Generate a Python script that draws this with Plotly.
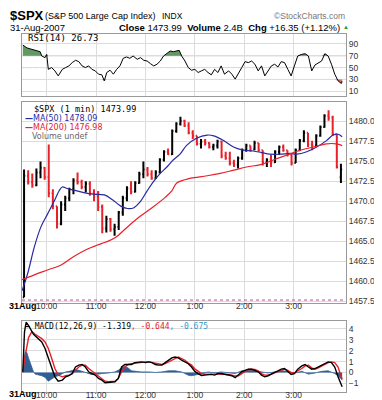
import plotly.graph_objects as go
import pandas as pd

DAY = "2007-08-31"
W, H = 382, 400

# ---------------- price bars (5-minute buckets) ----------------
bar_time = ["09:30", "09:35", "09:40", "09:45", "09:50", "09:55", "10:00", "10:05", "10:10", "10:15",
            "10:20", "10:25", "10:30", "10:35", "10:40", "10:45", "10:50", "10:55", "11:00", "11:05",
            "11:10", "11:15", "11:20", "11:25", "11:30", "11:35", "11:40", "11:45", "11:50", "11:55",
            "12:00", "12:05", "12:10", "12:15", "12:20", "12:25", "12:30", "12:35", "12:40", "12:45",
            "12:50", "12:55", "13:00", "13:05", "13:10", "13:15", "13:20", "13:25", "13:30", "13:35",
            "13:40", "13:45", "13:50", "13:55", "14:00", "14:05", "14:10", "14:15", "14:20", "14:25",
            "14:30", "14:35", "14:40", "14:45", "14:50", "14:55", "15:00", "15:05", "15:10", "15:15",
            "15:20", "15:25", "15:30", "15:35", "15:40", "15:45", "15:50", "15:55"]
bar_open = [1458.0, 1473.2, 1472.4, 1472.0, 1473.6, 1474.2, 1473.0, 1471.0, 1469.4, 1467.2,
            1469.6, 1470.4, 1471.5, 1472.6, 1472.4, 1471.8, 1472.2, 1471.0, 1470.6, 1469.3,
            1466.6, 1467.8, 1466.5, 1466.8, 1468.6, 1470.4, 1471.6, 1471.2, 1472.3, 1473.4,
            1474.0, 1473.4, 1472.9, 1473.6, 1475.2, 1476.2, 1475.9, 1478.8, 1479.7, 1480.1,
            1479.5, 1478.6, 1478.2, 1477.2, 1477.5, 1477.3, 1476.8, 1477.0, 1477.5, 1475.7,
            1475.4, 1474.8, 1474.6, 1475.4, 1476.4, 1477.0, 1476.5, 1477.3, 1476.4, 1474.9,
            1475.2, 1474.9, 1476.2, 1476.8, 1476.4, 1475.8, 1474.8, 1476.4, 1477.6, 1478.6,
            1477.1, 1477.0, 1478.2, 1479.3, 1480.7, 1480.5, 1478.4, 1473.0]
bar_high = [1474.0, 1473.9, 1473.5, 1474.1, 1475.0, 1474.3, 1477.1, 1471.5, 1469.4, 1470.0,
            1470.7, 1471.7, 1472.9, 1473.6, 1472.7, 1472.5, 1472.5, 1471.5, 1471.3, 1469.6,
            1468.2, 1467.9, 1467.2, 1468.8, 1470.7, 1471.9, 1472.5, 1472.5, 1473.7, 1475.0,
            1474.3, 1473.9, 1473.9, 1475.4, 1476.4, 1476.6, 1479.0, 1479.9, 1480.6, 1480.2,
            1479.9, 1478.9, 1478.2, 1477.8, 1477.8, 1477.4, 1477.2, 1477.7, 1477.6, 1476.2,
            1476.2, 1475.2, 1475.6, 1476.6, 1477.2, 1477.0, 1477.6, 1477.3, 1476.4, 1475.4,
            1475.8, 1476.4, 1477.0, 1477.1, 1476.4, 1475.9, 1476.6, 1477.8, 1478.9, 1478.6,
            1477.6, 1478.4, 1479.5, 1480.9, 1481.4, 1480.7, 1478.4, 1474.7]
bar_low = [1458.0, 1472.1, 1471.7, 1471.9, 1472.9, 1472.7, 1470.5, 1469.0, 1466.6, 1467.0,
           1468.8, 1470.0, 1470.9, 1472.1, 1471.5, 1471.1, 1470.7, 1470.0, 1468.8, 1466.0,
           1466.1, 1466.2, 1465.7, 1466.4, 1468.2, 1470.0, 1470.9, 1471.1, 1472.2, 1472.9,
           1473.1, 1472.7, 1472.8, 1473.5, 1475.0, 1475.8, 1475.8, 1478.6, 1479.5, 1479.3,
           1478.4, 1477.8, 1477.0, 1476.6, 1477.0, 1476.6, 1476.4, 1476.6, 1475.4, 1475.2,
           1474.5, 1474.3, 1474.1, 1475.2, 1476.2, 1476.2, 1476.4, 1476.2, 1474.5, 1474.3,
           1474.3, 1474.8, 1475.8, 1476.2, 1475.6, 1474.5, 1474.8, 1476.3, 1477.4, 1476.8,
           1476.4, 1476.9, 1478.1, 1479.2, 1480.1, 1478.2, 1474.1, 1472.3]
bar_close = [1473.2, 1472.4, 1472.0, 1473.6, 1474.2, 1473.0, 1471.0, 1469.4, 1467.2, 1469.6,
             1470.4, 1471.5, 1472.6, 1472.4, 1471.8, 1472.2, 1471.0, 1470.6, 1469.3, 1466.6,
             1467.8, 1466.5, 1466.8, 1468.6, 1470.4, 1471.6, 1471.2, 1472.3, 1473.4, 1474.0,
             1473.4, 1472.9, 1473.6, 1475.2, 1476.2, 1475.9, 1478.8, 1479.7, 1480.1, 1479.5,
             1478.6, 1478.2, 1477.2, 1477.5, 1477.3, 1476.8, 1477.0, 1477.5, 1475.7, 1475.4,
             1474.8, 1474.6, 1475.4, 1476.4, 1477.0, 1476.5, 1477.3, 1476.4, 1474.9, 1475.2,
             1474.9, 1476.2, 1476.8, 1476.4, 1475.8, 1474.8, 1476.4, 1477.6, 1478.6, 1477.1,
             1477.0, 1478.2, 1479.3, 1480.7, 1480.5, 1478.4, 1474.3, 1473.99]
prev_close = 1457.64

# ---------------- moving averages ----------------
ma50_time = ["09:30", "09:37", "09:45", "09:53", "10:01", "10:09", "10:15", "10:19", "10:25", "10:33",
             "10:45", "10:57", "11:10", "11:20", "11:30", "11:38", "11:46", "11:54", "12:02", "12:10",
             "12:18", "12:26", "12:34", "12:42", "12:50", "13:02", "13:15", "13:23", "13:35", "13:47",
             "13:59", "14:11", "14:21", "14:31", "14:44", "14:56", "15:04", "15:16", "15:28", "15:40",
             "15:48", "15:54", "15:59"]
ma50_val = [1458.8, 1461.0, 1464.3, 1466.8, 1468.4, 1470.0, 1471.3, 1471.8, 1471.6, 1471.4,
            1471.1, 1470.9, 1470.8, 1470.2, 1469.4, 1469.1, 1469.2, 1470.0, 1471.3, 1472.5,
            1473.5, 1474.3, 1475.2, 1475.9, 1477.0, 1477.9, 1478.3, 1478.2, 1477.6, 1476.8,
            1476.4, 1476.3, 1476.1, 1475.9, 1475.9, 1476.0, 1475.9, 1476.2, 1476.8, 1477.6,
            1478.3, 1478.4, 1478.09]
ma200_time = ["09:30", "09:45", "10:01", "10:17", "10:33", "10:49", "11:01", "11:12", "11:24", "11:36",
              "11:52", "12:08", "12:24", "12:32", "12:38", "12:48", "12:55", "13:15", "13:31", "13:47",
              "14:03", "14:20", "14:36", "14:52", "15:08", "15:24", "15:40", "15:52", "15:59"]
ma200_val = [1460.2, 1460.8, 1461.4, 1462.0, 1463.1, 1464.0, 1464.5, 1464.9, 1465.5, 1466.6,
             1468.0, 1469.2, 1470.5, 1471.3, 1472.3, 1472.7, 1472.9, 1473.2, 1473.5, 1473.9,
             1474.3, 1474.6, 1475.2, 1475.8, 1476.4, 1476.8, 1477.2, 1477.2, 1476.98]

# ---------------- RSI(14) ----------------
rsi_time = ["09:31", "09:36", "09:42", "09:48", "09:52", "09:54", "09:58", "10:00", "10:02", "10:06",
            "10:10", "10:14", "10:19", "10:23", "10:27", "10:31", "10:35", "10:39", "10:43", "10:47",
            "10:51", "10:55", "10:59", "11:03", "11:07", "11:10", "11:13", "11:17", "11:21", "11:25",
            "11:29", "11:33", "11:37", "11:41", "11:45", "11:50", "11:54", "11:58", "12:02", "12:06",
            "12:10", "12:14", "12:18", "12:22", "12:26", "12:30", "12:34", "12:38", "12:41", "12:44",
            "12:48", "12:52", "12:56", "13:00", "13:04", "13:08", "13:12", "13:16", "13:20", "13:24",
            "13:28", "13:32", "13:36", "13:41", "13:45", "13:49", "13:53", "13:57", "14:01", "14:05",
            "14:09", "14:13", "14:17", "14:21", "14:25", "14:29", "14:33", "14:37", "14:41", "14:45",
            "14:49", "14:53", "14:57", "15:01", "15:05", "15:10", "15:14", "15:18", "15:22", "15:26",
            "15:30", "15:34", "15:38", "15:42", "15:46", "15:50", "15:54", "15:58", "15:59"]
rsi_val = [87.8, 83.0, 80.6, 77.8, 76.7, 69.4, 66.7, 72.0, 47.0, 50.0,
           44.4, 36.0, 47.0, 50.0, 52.8, 58.3, 62.2, 60.0, 52.8, 50.0,
           52.8, 47.0, 44.4, 38.9, 37.8, 27.8, 41.7, 45.6, 38.9, 47.0,
           52.8, 65.6, 67.8, 65.6, 69.4, 63.9, 66.7, 62.2, 61.0, 56.7,
           52.8, 55.6, 61.0, 69.4, 73.3, 77.8, 76.7, 77.8, 78.9, 69.4,
           61.0, 50.0, 45.6, 47.0, 41.7, 44.4, 47.0, 41.7, 37.8, 47.0,
           41.7, 52.8, 38.9, 44.4, 38.9, 30.6, 41.7, 50.0, 60.0, 58.3,
           61.0, 55.6, 44.4, 52.8, 36.0, 44.4, 52.8, 55.6, 51.0, 60.0,
           58.3, 47.0, 36.0, 52.8, 69.4, 72.2, 73.3, 69.4, 44.4, 54.4,
           58.3, 61.0, 73.3, 69.4, 55.6, 38.9, 27.8, 23.3, 26.73]

# ---------------- MACD(12,26,9) ----------------
macd_time = ["09:31", "09:33", "09:35", "09:38", "09:44", "09:50", "09:54", "09:58", "10:02", "10:06",
             "10:10", "10:14", "10:19", "10:23", "10:27", "10:31", "10:35", "10:39", "10:43", "10:47",
             "10:51", "10:55", "10:59", "11:03", "11:07", "11:11", "11:15", "11:19", "11:23", "11:27",
             "11:31", "11:35", "11:39", "11:43", "11:47", "11:51", "11:55", "12:00", "12:04", "12:08",
             "12:12", "12:16", "12:20", "12:24", "12:28", "12:32", "12:36", "12:40", "12:44", "12:48",
             "12:52", "12:56", "13:00", "13:04", "13:08", "13:12", "13:16", "13:20", "13:24", "13:28",
             "13:32", "13:36", "13:41", "13:45", "13:49", "13:53", "13:57", "14:01", "14:05", "14:09",
             "14:13", "14:17", "14:21", "14:25", "14:29", "14:33", "14:37", "14:41", "14:45", "14:49",
             "14:53", "14:57", "15:01", "15:05", "15:10", "15:14", "15:18", "15:22", "15:26", "15:30",
             "15:34", "15:38", "15:42", "15:46", "15:50", "15:54", "15:58", "15:59"]
macd_val = [0.06, 3.7, 4.6, 4.3, 3.5, 3.1, 2.8, 2.2, 1.3, 0.36,
            -0.4, -0.8, -0.7, -0.4, -0.3, -0.1, 0.5, 0.67, 0.73, 0.5,
            0.06, -0.1, -0.24, -0.55, -0.7, -0.94, -0.9, -0.85, -0.85, -0.55,
            0.5, 0.73, 0.76, 0.73, 0.9, 0.97, 0.97, 0.9, 0.97, 0.9,
            0.73, 0.67, 0.67, 0.9, 1.12, 1.33, 1.42, 1.33, 1.12, 0.97,
            0.8, 0.5, 0.1, -0.1, -0.27, -0.24, -0.18, -0.18, -0.24, -0.1,
            -0.1, -0.18, -0.24, -0.3, -0.48, -0.24, 0.06, 0.2, 0.3, 0.3,
            0.2, 0.06, -0.24, -0.4, -0.3, -0.18, 0.0, 0.15, 0.3, 0.36,
            0.12, -0.18, -0.1, 0.3, 0.6, 0.73, 0.5, 0.3, 0.36, 0.5,
            0.67, 0.82, 0.97, 0.9, 0.5, -0.4, -1.2, -1.319]
sig_time = ["09:31", "09:34", "09:38", "09:42", "09:46", "09:50", "09:54", "09:58", "10:02", "10:06",
            "10:10", "10:14", "10:19", "10:23", "10:27", "10:31", "10:35", "10:39", "10:43", "10:47",
            "10:51", "10:55", "10:59", "11:03", "11:07", "11:11", "11:15", "11:19", "11:23", "11:27",
            "11:31", "11:35", "11:39", "11:43", "11:47", "11:51", "11:55", "12:00", "12:04", "12:08",
            "12:12", "12:16", "12:20", "12:24", "12:28", "12:32", "12:36", "12:40", "12:44", "12:48",
            "12:52", "12:56", "13:00", "13:04", "13:08", "13:12", "13:16", "13:20", "13:24", "13:28",
            "13:32", "13:36", "13:41", "13:45", "13:49", "13:53", "13:57", "14:01", "14:05", "14:09",
            "14:13", "14:17", "14:21", "14:25", "14:29", "14:33", "14:37", "14:41", "14:45", "14:49",
            "14:53", "14:57", "15:01", "15:05", "15:10", "15:14", "15:18", "15:22", "15:26", "15:30",
            "15:34", "15:38", "15:42", "15:46", "15:50", "15:54", "15:58", "15:59"]
sig_val = [0.0, 1.6, 3.2, 3.75, 3.5, 3.3, 3.1, 2.8, 2.2, 1.3,
           0.36, -0.24, -0.4, -0.3, -0.24, -0.1, 0.2, 0.5, 0.67, 0.67,
           0.36, 0.12, -0.1, -0.3, -0.55, -0.8, -0.85, -0.85, -0.8, -0.55,
           0.06, 0.5, 0.73, 0.8, 0.85, 0.9, 0.97, 0.97, 0.97, 0.9,
           0.82, 0.73, 0.73, 0.82, 0.97, 1.12, 1.33, 1.42, 1.27, 1.12,
           0.86, 0.67, 0.33, 0.09, -0.1, -0.16, -0.14, -0.15, -0.15, -0.15,
           -0.15, -0.15, -0.18, -0.24, -0.33, -0.3, -0.1, 0.12, 0.27, 0.3,
           0.27, 0.15, -0.1, -0.24, -0.24, -0.15, -0.03, 0.06, 0.2, 0.3,
           0.2, -0.03, -0.03, 0.12, 0.36, 0.6, 0.67, 0.42, 0.3, 0.42,
           0.58, 0.73, 0.9, 0.97, 0.9, 0.5, -0.4, -0.644]
hist_time = ["09:31", "09:32", "09:34", "09:36", "09:38", "09:40", "09:42", "09:44", "09:46", "09:50",
             "09:54", "09:58", "10:02", "10:06", "10:10", "10:14", "10:19", "10:23", "10:27", "10:31",
             "10:35", "10:39", "10:43", "10:47", "10:51", "10:55", "10:59", "11:03", "11:07", "11:11",
             "11:15", "11:19", "11:23", "11:27", "11:31", "11:35", "11:39", "11:43", "11:47", "11:51",
             "11:55", "12:04", "12:12", "12:20", "12:28", "12:36", "12:44", "12:48", "12:52", "12:56",
             "13:00", "13:04", "13:08", "13:16", "13:24", "13:32", "13:41", "13:49", "13:57", "14:05",
             "14:13", "14:21", "14:29", "14:37", "14:45", "14:53", "15:01", "15:10", "15:18", "15:26",
             "15:34", "15:42", "15:50", "15:54", "15:58", "15:59"]
hist_val = [0.0, 1.0, 1.9, 1.8, 1.3, 0.9, 0.4, 0.05, -0.15, -0.2,
            -0.3, -0.45, -0.8, -0.6, -0.4, -0.3, -0.1, 0.05, 0.1, 0.15,
            0.25, 0.2, 0.1, -0.05, -0.15, -0.2, -0.1, -0.15, -0.1, -0.1,
            -0.05, 0.0, 0.05, 0.2, 0.45, 0.55, 0.4, 0.15, 0.1, 0.1,
            0.05, 0.05, 0.0, 0.05, 0.15, 0.15, 0.05, -0.1, -0.25, -0.3,
            -0.25, -0.15, -0.12, 0.05, -0.05, 0.05, -0.05, -0.1, 0.15, 0.2,
            0.15, 0.05, -0.05, 0.05, 0.15, 0.1, -0.05, 0.1, -0.15, -0.05,
            0.1, 0.15, -0.1, -0.3, -0.6, -0.675]

# ---------------- axes ticks ----------------
hour_ticks = ["10:00", "11:00", "12:00", "13:00", "14:00", "15:00"]
hour_labels = ["10:00", "11:00", "12:00", "1:00", "2:00", "3:00"]
price_ticks = [1457.5, 1460.0, 1462.5, 1465.0, 1467.5, 1470.0, 1472.5, 1475.0, 1477.5, 1480.0]
rsi_ticks = [10, 30, 50, 70, 90]
macd_ticks = [-1, 0, 1, 2, 3, 4]


def ts(t):
    return pd.Timestamp(f"{DAY} {t}")


def tlist(lst):
    return [ts(t) for t in lst]


def px(x):
    return x / W


def py(y):
    return 1 - y / H


X0, X1 = px(14), px(338)
RSI_DOM = [py(89), py(26)]
PRICE_DOM = [py(297), py(95)]
MACD_DOM = [py(387), py(315)]
XRANGE = [ts("09:30"), ts("16:03:40")]

GRID = "#dcdcdc"
BORDER = "#9a9a9a"
RED = "#e8202a"
BLUE = "#2a2aa0"
TICKFONT = dict(family="Liberation Sans, Arial", size=8.5, color="#333")

fig = go.Figure()

# RSI panel
rsi_x = tlist(rsi_time)
fig.add_trace(go.Scatter(x=rsi_x, y=[70] * len(rsi_x), mode="lines", line=dict(width=0),
                         xaxis="x", yaxis="y", hoverinfo="skip", showlegend=False))
fig.add_trace(go.Scatter(x=rsi_x, y=[max(v, 70) for v in rsi_val], mode="lines", line=dict(width=0),
                         fill="tonexty", fillcolor="rgba(70,135,70,0.85)",
                         xaxis="x", yaxis="y", hoverinfo="skip", showlegend=False))
fig.add_trace(go.Scatter(x=rsi_x, y=[30] * len(rsi_x), mode="lines", line=dict(width=0),
                         xaxis="x", yaxis="y", hoverinfo="skip", showlegend=False))
fig.add_trace(go.Scatter(x=rsi_x, y=[min(v, 30) for v in rsi_val], mode="lines", line=dict(width=0),
                         fill="tonexty", fillcolor="rgba(210,70,70,0.85)",
                         xaxis="x", yaxis="y", hoverinfo="skip", showlegend=False))
fig.add_trace(go.Scatter(x=rsi_x, y=rsi_val, mode="lines", line=dict(color="black", width=1),
                         xaxis="x", yaxis="y", showlegend=False))

# Price panel
bar_x = [ts(t) + pd.Timedelta(minutes=2.5) for t in bar_time]
fig.add_trace(go.Ohlc(x=bar_x, open=bar_open, high=bar_high, low=bar_low, close=bar_close,
                      increasing=dict(line=dict(color="black", width=2)),
                      decreasing=dict(line=dict(color=RED, width=2)),
                      tickwidth=0.3, xaxis="x2", yaxis="y2", showlegend=False))
fig.add_trace(go.Scatter(x=tlist(ma50_time), y=ma50_val, mode="lines", line=dict(color=BLUE, width=1.2, shape="spline"),
                         xaxis="x2", yaxis="y2", showlegend=False))
fig.add_trace(go.Scatter(x=tlist(ma200_time), y=ma200_val, mode="lines", line=dict(color=RED, width=1.2, shape="spline"),
                         xaxis="x2", yaxis="y2", showlegend=False))
fig.add_trace(go.Scatter(x=XRANGE, y=[prev_close, prev_close], mode="lines",
                         line=dict(color="#b4509a", width=1, dash="dot"),
                         xaxis="x2", yaxis="y2", hoverinfo="skip", showlegend=False))

# MACD panel
fig.add_trace(go.Scatter(x=tlist(hist_time), y=hist_val, mode="lines", line=dict(color="#2f5f95", width=0.8),
                         fill="tozeroy", fillcolor="#2f5f95", xaxis="x3", yaxis="y3", showlegend=False))
fig.add_trace(go.Scatter(x=tlist(sig_time), y=sig_val, mode="lines", line=dict(color=RED, width=1.4),
                         xaxis="x3", yaxis="y3", showlegend=False))
fig.add_trace(go.Scatter(x=tlist(macd_time), y=macd_val, mode="lines", line=dict(color="black", width=1.4),
                         xaxis="x3", yaxis="y3", showlegend=False))

xcommon = dict(range=XRANGE, tickvals=tlist(hour_ticks), ticktext=hour_labels, showgrid=True,
               gridcolor=GRID, gridwidth=1, showline=True, mirror=True, linecolor=BORDER, linewidth=1,
               ticks="", zeroline=False, tickfont=TICKFONT, fixedrange=True)
ycommon = dict(side="right", showgrid=True, gridcolor=GRID, gridwidth=1, showline=True, mirror=True,
               linecolor=BORDER, linewidth=1, ticks="", zeroline=False, tickfont=TICKFONT, fixedrange=True)

fig.update_layout(
    width=W, height=H, margin=dict(l=0, r=0, t=0, b=0),
    paper_bgcolor="white", plot_bgcolor="white",
    xaxis=dict(domain=[X0, X1], anchor="y", showticklabels=False, **xcommon),
    xaxis2=dict(domain=[X0, X1], anchor="y2", matches="x", showticklabels=True, ticklabelstandoff=-5, **xcommon),
    xaxis3=dict(domain=[X0, X1], anchor="y3", matches="x", showticklabels=True, ticklabelstandoff=-5, **xcommon),
    yaxis=dict(domain=RSI_DOM, anchor="x", range=[1.7, 106.7], tickvals=rsi_ticks, **ycommon),
    yaxis2=dict(domain=PRICE_DOM, anchor="x2", range=[1457.3, 1482.4], tickvals=price_ticks,
                tickformat=".1f", **ycommon),
    yaxis3=dict(domain=MACD_DOM, anchor="x3", range=[-1.8, 4.75], tickvals=macd_ticks, **ycommon),
    xaxis_rangeslider_visible=False, xaxis2_rangeslider_visible=False,
)

# RSI reference lines
for lvl, dash in [(70, "solid"), (30, "solid"), (50, "dashdot")]:
    fig.add_shape(type="line", xref="x domain", yref="y", x0=0, x1=1, y0=lvl, y1=lvl,
                  line=dict(color="#888888", width=1, dash=dash), layer="below")

SANS = "Liberation Sans, Arial"
MONO = "DejaVu Sans Mono, monospace"


def text(x, y, s, size, color="black", family=SANS, xanchor="left"):
    fig.add_annotation(x=px(x), y=py(y), xref="paper", yref="paper", text=s, showarrow=False,
                       xanchor=xanchor, yanchor="middle", borderpad=0,
                       font=dict(family=family, size=size, color=color))


# header
text(1, 8, "<b>$SPX</b>", 13)
text(36, 8.5, "(S&P 500 Large Cap Index)", 9)
text(153, 8.5, "INDX", 8.5)
text(338, 8.5, "\u00a9StockCharts.com", 8.5, color="#777", xanchor="right")
text(1, 19.5, "31-Aug-2007", 9.5)
text(333, 19.5, "<b>Close</b> 1473.99  <b>Volume</b> 2.4B  <b>Chg</b> +16.35 (+1.12%)", 9.5, xanchor="right")
text(334, 19, "\u25b2", 6, color="#2a9a2a")

# panel legends
text(19, 30, "RSI(14) 26.73", 9, family=MONO)
text(25, 101.5, "$SPX (1 min) 1473.99", 8.5, family=MONO)
text(16, 111, "<b>\u2014</b>MA(50) 1478.09", 8, color=BLUE, family="DejaVu Sans")
text(16, 120, "<b>\u2014</b>MA(200) 1476.98", 8, color=RED, family="DejaVu Sans")
text(23, 129, "Volume undef", 8, color="#666", family="DejaVu Sans")
text(16, 320.5, "<b>\u2014</b> MACD(12,26,9) -1.319<span style='color:#e8202a'>, -0.644</span>"
                "<span style='color:#3399cc'>, -0.675</span>", 8, family=MONO)

# date labels under panels
text(0, 300.5, "<b>31Aug</b>", 9)
text(0, 389, "<b>31Aug</b>", 9)

fig.write_html("out.html")
